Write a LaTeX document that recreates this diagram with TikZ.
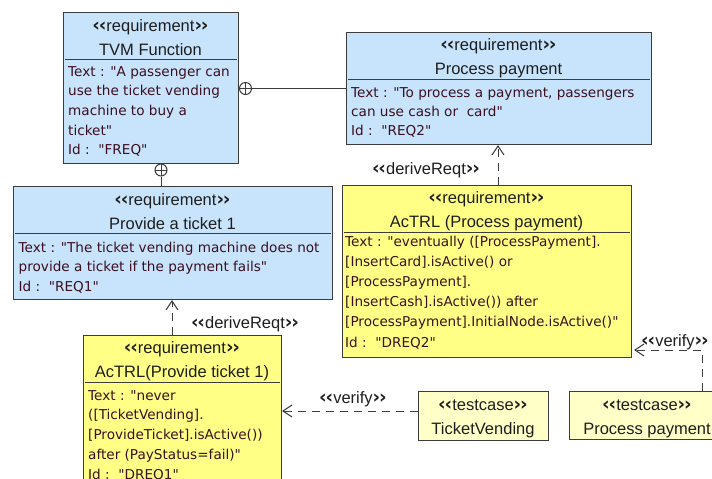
\documentclass[tikz,border=0pt]{standalone}
\usepackage{fontspec}
\setmainfont{Liberation Sans}
\newfontfamily\bodyfont{DejaVu Sans}
\usetikzlibrary{arrows.meta,calc}

\definecolor{reqblue}{RGB}{200,228,252}
\definecolor{reqyellow}{RGB}{255,255,133}
\definecolor{testyellow}{RGB}{255,255,200}
\definecolor{edge}{RGB}{60,60,60}
\definecolor{headink}{RGB}{30,30,30}
\definecolor{bodyink}{RGB}{60,15,30}

% stereotype brackets
\newcommand\lch{{\bodyfont\bfseries\fontsize{18.5}{16}\selectfont ‹\kern-1.2pt‹}}
\newcommand\rch{{\bodyfont\bfseries\fontsize{18.5}{16}\selectfont ›\kern-1.2pt›}}
\newcommand\stereo[1]{\lch#1\rch}

\tikzset{
  box/.style={draw=edge, line width=1.1pt, inner sep=0, anchor=north west},
  reqbox/.style={box, fill=reqblue},
  acbox/.style={box, fill=reqyellow},
  testbox/.style={box, fill=testyellow},
  sepline/.style={draw=edge, line width=1pt},
  headtxt/.style={font=\fontsize{16.5}{18}\selectfont, text=headink, inner sep=0, anchor=base},
  bodytxt/.style={font=\bodyfont\fontsize{13.6}{16}\selectfont, text=bodyink, inner sep=0, anchor=base west},
  lbl/.style={font=\fontsize{16.5}{18}\selectfont, text=headink, inner sep=0, anchor=base},
  rel/.style={draw=edge, line width=1pt, dash pattern=on 8pt off 6pt,
              -{Straight Barb[length=9pt,width=12pt]}},
  assoc/.style={draw=edge, line width=1pt},
  oplus/.style={circle, draw=edge, line width=1pt, fill=white, minimum size=12pt, inner sep=0,
    path picture={\draw[edge, line width=0.9pt]
      (path picture bounding box.north) -- (path picture bounding box.south)
      (path picture bounding box.west) -- (path picture bounding box.east);}},
}

% stereotype and title lines of a block
\newcommand\headlines[5]{%
  \node[headtxt] (#1-st) at ({#2},{#3}) {\stereo{#4}};
  \node[headtxt] (#1-ti) at ({#2},{#3+24}) {#5};
}
% compartment line under the title
\newcommand\compline[1]{%
  \draw[sepline] ($(#1.north west)+(2,47)$) -- ($(#1.north east)+(-2,47)$);
}
% attribute lines of a block
\newcommand\bodylines[5]{%
  \foreach \bline [count=\k] in {#5} {
    \node[bodytxt] (#1-l\k) at ({#2},{#3+(\k-1)*#4}) {\bline};
  }
}

\begin{document}
\begin{tikzpicture}[x=1pt, y=-1pt]
\useasboundingbox (0,0) rectangle (712,479);
\clip (0,0) rectangle (712,479);
\fill[white] (0,0) rectangle (712,479);

% requirement blocks
\node[reqbox, minimum width=175pt, minimum height=151pt] (tvm) at (63,12) {};
\node[reqbox, minimum width=305pt, minimum height=112pt] (pp) at (346,32) {};
\node[reqbox, minimum width=319pt, minimum height=113pt] (pt) at (13,186) {};
\node[acbox, minimum width=289pt, minimum height=172pt] (acpp) at (342,185) {};
\node[acbox, minimum width=198pt, minimum height=160pt] (acpt) at (83,335) {};
\node[testbox, minimum width=130pt, minimum height=49pt] (tv) at (418,391) {};
\node[testbox, minimum width=160pt, minimum height=48pt] (tpp) at (569,391) {};

\compline{tvm}
\compline{pp}
\compline{pt}
\compline{acpp}
\compline{acpt}

\headlines{tvm}{150.5}{31}{requirement}{TVM Function}
\headlines{pp}{498.5}{50}{requirement}{Process payment}
\headlines{pt}{172.5}{205}{requirement}{Provide a ticket 1}
\headlines{acpp}{486.5}{203.5}{requirement}{AcTRL (Process payment)}
\headlines{acpt}{182}{353.5}{requirement}{AcTRL(Provide ticket 1)}
\headlines{tv}{483}{410}{testcase}{TicketVending}
\headlines{tpp}{647}{410}{testcase}{Process payment}

\bodylines{tvm}{68}{76}{19.7}{{Text : "A passenger can},{use the ticket vending},{machine to buy a},{ticket"},{Id :\ \ "FREQ"}}
\bodylines{pp}{351}{97}{19.3}{{Text : "To process a payment, passengers},{can use cash or\ \ card"},{Id :\ \ "REQ2"}}
\bodylines{pt}{18.5}{252}{19.5}{{Text : "The ticket vending machine does not},{provide a ticket if the payment fails"},{Id :\ \ "REQ1"}}
\bodylines{acpp}{345}{246}{20.2}{{Text : "eventually ([ProcessPayment].},{[InsertCard].isActive() or},{[ProcessPayment].},{[InsertCash].isActive()) after},{[ProcessPayment].InitialNode.isActive()"},{Id :\ \ "DREQ2"}}
\bodylines{acpt}{88}{400}{19.8}{{Text : "never},{([TicketVending].},{[ProvideTicket].isActive())},{after (PayStatus=fail)"},{Id :\ \ "DREQ1"}}

% containment links
\node[oplus] (own1) at (245.5,88.5) {};
\node[oplus] (own2) at (161,170) {};
\draw[assoc] (own1.east) -- (own1 -| pp.west);
\draw[assoc] (own2.south) -- (own2 |- pt.north);

% deriveReqt dependencies
\coordinate (dx1) at (172,0);
\coordinate (dx2) at (498,0);
\draw[rel] (dx1 |- acpt.north) -- (dx1 |- pt.south);
\draw[rel] (dx2 |- acpp.north) -- (dx2 |- pp.south);
\node[lbl] (dlbl1) at (245,328) {\stereo{deriveReqt}};
\node[lbl] (dlbl2) at (426,174) {\stereo{deriveReqt}};

% verify dependencies
\coordinate (vy1) at (0,411);
\coordinate (vc2) at (702,350);
\draw[rel] (vy1 -| tv.west) -- (vy1 -| acpt.east);
\draw[rel] (vc2 |- tpp.north) -- (vc2) -- ($(vc2 -| acpp.east)+(2,0)$);
\node[lbl] (vlbl1) at (353,403) {\stereo{verify}};
\node[lbl] (vlbl2) at (675,346) {\stereo{verify}};
\end{tikzpicture}
\end{document}
